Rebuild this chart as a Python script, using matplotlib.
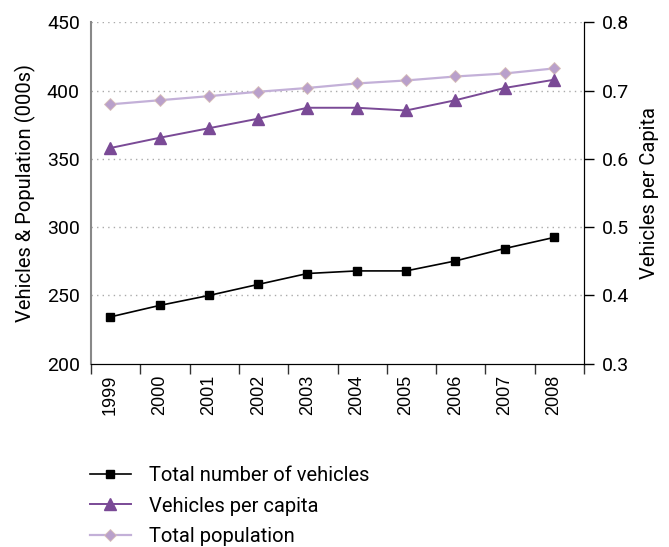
import numpy as np
import matplotlib.pyplot as plt

years = ["1999", "2000", "2001", "2002", "2003", "2004", "2005", "2006", "2007", "2008"]
total_vehicles = [234.3, 242.7, 250.0, 258.1, 266.1, 268.0, 268.0, 275.3, 284.4, 292.5]
vehicles_per_capita = [0.616, 0.631, 0.645, 0.659, 0.675, 0.675, 0.671, 0.686, 0.704, 0.716]
total_population = [390.0, 393.0, 396.0, 399.2, 402.0, 405.3, 407.5, 410.4, 412.6, 416.3]

plt.rcParams["font.family"] = ["Roboto", "DejaVu Sans"]

fig = plt.figure(figsize=(6.69, 5.47), dpi=100)
ax = fig.add_axes([0.136, 0.335, 0.737, 0.624])
ax2 = ax.twinx()

x = np.arange(len(years))

ax.plot(x, total_vehicles, color="black", marker="s", markersize=6, lw=1.2,
        label="Total number of vehicles", zorder=3)
ax.plot(x, total_population, color="#c3b0d8", marker="D", markersize=6,
        markerfacecolor="#b9a0cb", markeredgecolor="#d8bfb8", markeredgewidth=0.6,
        lw=1.6, label="Total population", zorder=3)
ax2.plot(x, vehicles_per_capita, color="#7a4a96", marker="^", markersize=8, lw=1.4,
         label="Vehicles per capita", zorder=3)

ax.set_xlim(-0.39, 9.52)
ax.set_ylim(200, 450)
ax2.set_ylim(0.3, 0.8)
ax.set_yticks([200, 250, 300, 350, 400, 450])
ax2.set_yticks([0.3, 0.4, 0.5, 0.6, 0.7, 0.8])
ax2.set_yticklabels(["0.3", "0.4", "0.5", "0.6", "0.7", "0.8"])

ax.set_xticks(x)
ax.set_xticklabels(years, rotation=90, fontsize=13, family=["Liberation Sans", "DejaVu Sans"])
ax.set_xticks(np.arange(len(years) + 1) - 0.39, minor=True)
ax.tick_params(axis="x", which="major", length=0, pad=8)
ax.tick_params(axis="x", which="minor", length=7, width=1, color="#333333")
ax.tick_params(axis="y", length=0, labelsize=14, pad=8)
ax2.tick_params(axis="y", length=7, width=1, labelsize=14, pad=6)

for v in [250, 300, 350, 400, 450]:
    ax.axhline(v, color="#aaaaaa", lw=1, ls=(0, (1, 3)), zorder=1)

ax.spines["top"].set_visible(False)
ax2.spines["top"].set_visible(False)
ax.spines["left"].set_color("#888888")
ax.spines["left"].set_linewidth(1.5)
ax2.spines["left"].set_visible(False)
ax2.spines["right"].set_color("black")

ax.set_ylabel("Vehicles & Population (000s)", fontsize=14.5, labelpad=8)
ax2.set_ylabel("Vehicles per Capita", fontsize=14.5, labelpad=8)

h1, l1 = ax.get_legend_handles_labels()
h2, l2 = ax2.get_legend_handles_labels()
handles = [h1[0], h2[0], h1[1]]
labels = [l1[0], l2[0], l1[1]]
fig.legend(handles, labels, loc="upper left", bbox_to_anchor=(0.123, 0.162),
           frameon=False, fontsize=14.5, handlelength=2.0, handletextpad=0.9,
           labelspacing=0.55, borderaxespad=0)

fig.savefig("out.png", dpi=100)
